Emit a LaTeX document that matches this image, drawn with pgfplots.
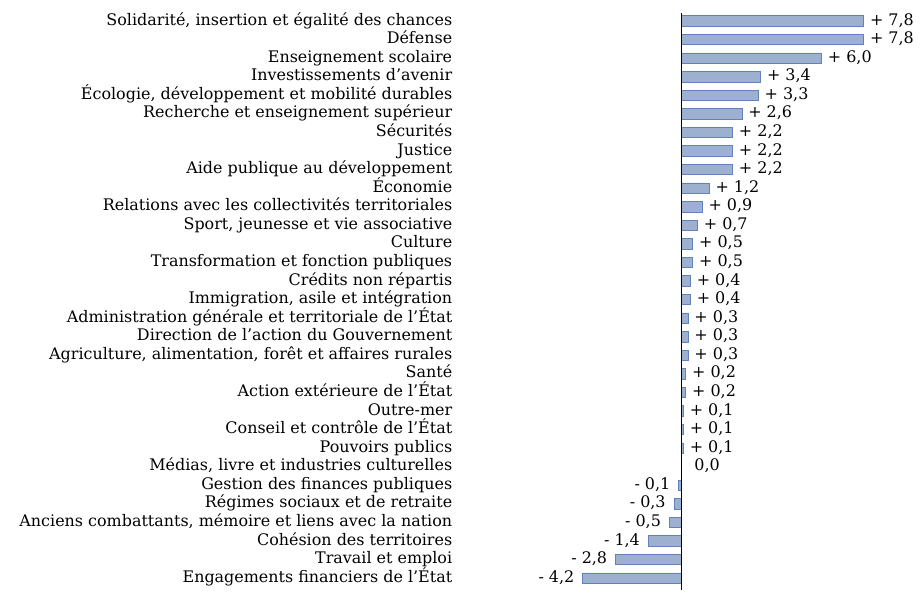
\documentclass[border=0pt]{standalone}
\usepackage{pgfplots}
\pgfplotsset{compat=1.18}
\usepackage{fontspec}
\setmainfont{DejaVu Serif}
\definecolor{barfill}{HTML}{9DB0D0}
\definecolor{baredge}{HTML}{6282B9}
\newcommand{\lblfont}{\fontsize{16}{18}\selectfont}
\begin{document}
\begin{tikzpicture}
\begin{axis}[
  x=23.4bp, y=18.57bp, y dir=reverse,
  xmin=-9.77, xmax=9, ymin=-0.5, ymax=30.7,
  axis line style={draw=none},
  xtick=\empty,
  ytick={0,...,30},
  yticklabels={
    {Solidarité, insertion et égalité des chances},
    {Défense},
    {Enseignement scolaire},
    {Investissements d’avenir},
    {Écologie, développement et mobilité durables},
    {Recherche et enseignement supérieur},
    {Sécurités},
    {Justice},
    {Aide publique au développement},
    {Économie},
    {Relations avec les collectivités territoriales},
    {Sport, jeunesse et vie associative},
    {Culture},
    {Transformation et fonction publiques},
    {Crédits non répartis},
    {Immigration, asile et intégration},
    {Administration générale et territoriale de l’État},
    {Direction de l’action du Gouvernement},
    {Agriculture, alimentation, forêt et affaires rurales},
    {Santé},
    {Action extérieure de l’État},
    {Outre-mer},
    {Conseil et contrôle de l’État},
    {Pouvoirs publics},
    {Médias, livre et industries culturelles},
    {Gestion des finances publiques},
    {Régimes sociaux et de retraite},
    {Anciens combattants, mémoire et liens avec la nation},
    {Cohésion des territoires},
    {Travail et emploi},
    {Engagements financiers de l’État}
  },
  major tick length=0pt,
  yticklabel style={font=\lblfont, anchor=east, inner sep=0pt, text height=11.5bp, text depth=3.5bp},
  xbar, bar width=10.5bp, bar shift=0pt,
  clip=false,
  point meta=x,
  every node near coord/.append style={font=\lblfont, text=black, inner sep=0pt, text height=11.5bp, text depth=3.5bp},
  /pgf/number format/fixed,
  /pgf/number format/fixed zerofill,
  /pgf/number format/precision=1,
  /pgf/number format/use comma,
  /pgf/number format/assume math mode=true,
]
\addplot[fill=barfill, draw=baredge, line width=0.8bp,
  nodes near coords={+ \pgfmathprintnumber{\pgfplotspointmeta}},
  every node near coord/.append style={anchor=west, xshift=6bp}]
  coordinates {
  (7.8,0) (7.8,1) (6.0,2) (3.4,3) (3.3,4) (2.6,5) (2.2,6) (2.2,7) (2.2,8)
  (1.2,9) (0.9,10) (0.7,11) (0.5,12) (0.5,13) (0.4,14) (0.4,15) (0.3,16)
  (0.3,17) (0.3,18) (0.2,19) (0.2,20) (0.1,21) (0.1,22) (0.1,23)
  };
\addplot[fill=barfill, draw=baredge, line width=0.8bp,
  nodes near coords={\pgfmathprintnumber{\pgfplotspointmeta}},
  every node near coord/.append style={anchor=west, xshift=13bp}]
  coordinates {(0.0,24)};
\addplot[fill=barfill, draw=baredge, line width=0.8bp,
  point meta={-x},
  nodes near coords={- \pgfmathprintnumber{\pgfplotspointmeta}},
  every node near coord/.append style={anchor=east, xshift=-8bp}]
  coordinates {
  (-0.1,25) (-0.3,26) (-0.5,27) (-1.4,28) (-2.8,29) (-4.2,30)
  };
\draw[black, line width=0.9bp] (axis cs:0,-0.43) -- (axis cs:0,30.64);
\path (axis cs:-29.10,-1.131) rectangle (axis cs:10.38,31.34);
\end{axis}
\end{tikzpicture}
\end{document}
